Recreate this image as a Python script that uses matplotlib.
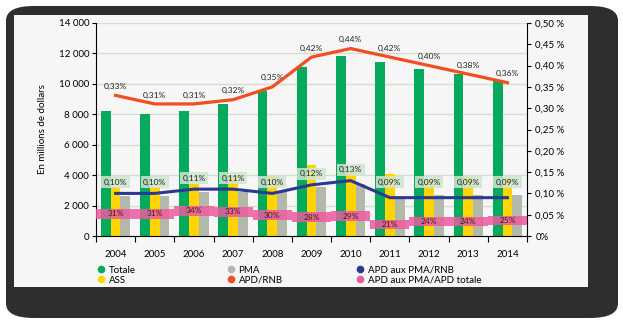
import numpy as np
import matplotlib
matplotlib.use("Agg")
import matplotlib.pyplot as plt
from matplotlib.patches import FancyBboxPatch, Rectangle
from matplotlib.lines import Line2D

plt.rcParams['font.family'] = ['Lato', 'DejaVu Sans']

# -----------------------------
# Data
# -----------------------------
years = ["2004", "2005", "2006", "2007", "2008", "2009", "2010", "2011", "2012", "2013", "2014"]
totale = [8200, 8000, 8200, 8650, 9550, 11100, 11800, 11450, 10950, 10650, 10250]
ass = [3200, 3200, 3450, 4000, 3950, 4650, 4200, 4050, 3750, 3900, 3800]
pma = [2600, 2600, 2900, 2900, 2900, 3250, 3450, 2500, 2700, 2700, 2700]
apd_rnb = [0.33, 0.31, 0.31, 0.32, 0.35, 0.42, 0.44, 0.42, 0.40, 0.38, 0.36]
apd_pma_rnb = [0.10, 0.10, 0.11, 0.11, 0.10, 0.12, 0.13, 0.09, 0.09, 0.09, 0.09]
pma_share = [31, 31, 34, 33, 30, 28, 29, 21, 24, 24, 25]

c_green = "#05aa5c"
c_yellow = "#ffd400"
c_grey = "#b3b9aa"
c_red = "#f04e23"
c_blue = "#2b3990"
c_pink = "#ec5b9f"

def fr(v, dec=2):
    return f"{v:.{dec}f}".replace(".", ",")

# -----------------------------
# Figure + frame
# -----------------------------
fig = plt.figure(figsize=(6.23, 3.23), dpi=100)
fig.patch.set_facecolor("white")
W, H = 623, 323
fig.patches.append(FancyBboxPatch((6 / W, 5 / H), 612 / W, 312 / H,
                                  boxstyle="round,pad=0,rounding_size=0.045",
                                  transform=fig.transFigure, facecolor="#2e2e2e",
                                  edgecolor="none", zorder=-3))
fig.patches.append(Rectangle((14 / W, 1 - 287 / H), 574 / W, 272 / H,
                             transform=fig.transFigure, facecolor="#f6f6f6",
                             edgecolor="none", zorder=-2))

ax = fig.add_axes([96 / W, 1 - 236 / H, 431 / W, 213 / H])
ax.set_facecolor("none")
x = np.arange(len(years))
bw = 0.25

# -----------------------------
# Bars
# -----------------------------
ax.bar(x - bw, totale, bw, color=c_green, zorder=2)
ax.bar(x, ass, bw, color=c_yellow, zorder=2)
ax.bar(x + bw, pma, bw, color=c_grey, zorder=2)

ax.set_xlim(-0.5, len(years) - 0.5)
ax.set_ylim(0, 14000)
ax.set_yticks(np.arange(0, 14001, 2000))
ax.set_yticklabels([f"{v:,}".replace(",", " ") for v in range(0, 14001, 2000)], fontsize=7)
ax.yaxis.grid(True, color="#d3dfcc", linewidth=1.0, zorder=0)
ax.set_axisbelow(True)
ax.set_xticks(x)
ax.set_xticklabels(years, fontsize=7)
ax.set_xticks(np.arange(-0.5, len(years), 1), minor=True)
ax.tick_params(axis="x", which="major", length=0, pad=10)
ax.tick_params(axis="x", which="minor", length=4, width=0.8, direction="out")
ax.tick_params(axis="y", length=3, width=0.8, pad=2)
for s in ["top", "right"]:
    ax.spines[s].set_visible(False)
ax.spines["left"].set_linewidth(0.8)
ax.spines["bottom"].set_linewidth(0.8)
ax.set_ylabel("En millions de dollars", fontsize=7, labelpad=8)

# -----------------------------
# Right axis (percent of GNI)
# -----------------------------
ax2 = ax.twinx()
ax2.set_ylim(0, 0.5)
ticks2 = np.arange(0, 0.501, 0.05)
ax2.set_yticks(ticks2)
ax2.set_yticklabels(["0%"] + [fr(t) + " %" for t in ticks2[1:]], fontsize=7)
ax2.tick_params(axis="y", length=3, width=0.8, pad=3)
for s in ["top", "left", "bottom"]:
    ax2.spines[s].set_visible(False)
ax2.spines["right"].set_linewidth(0.8)

ax2.plot(x, apd_rnb, color=c_red, lw=2.3, zorder=4)
for xi, v in zip(x, apd_rnb):
    ax2.text(xi, v + 0.021, fr(v) + "%", ha="center", va="center", fontsize=6, color="#222222")

ax2.plot(x, apd_pma_rnb, color=c_blue, lw=2.2, zorder=4)
for xi, v in zip(x, apd_pma_rnb):
    ax2.text(xi, max(v, 0.10) + 0.026, fr(v) + "%", ha="center", va="center", fontsize=6,
             color="#222222", zorder=5,
             bbox=dict(boxstyle="square,pad=0.3", fc="#cfe6cf", ec="none", alpha=0.85))

# -----------------------------
# Pink band (share of ODA to LDCs)
# -----------------------------
ax3 = ax.twinx()
ax3.set_ylim(10, 213)
ax3.axis("off")
band = 9
ax3.bar(x, [band] * len(x), 1.0, bottom=[v - band / 2 for v in pma_share],
        color=c_pink, alpha=0.85, zorder=3)
for xi, v in zip(x, pma_share):
    ax3.text(xi, v, f"{v}%", ha="center", va="center", fontsize=6, color="#3a1a2a", zorder=5)

# -----------------------------
# Legend
# -----------------------------
def handle(c):
    return Line2D([], [], marker="o", color="none", markerfacecolor=c,
                  markeredgecolor="none", markersize=5.5)

groups = [(["Totale", "ASS"], [c_green, c_yellow], 92),
          (["PMA", "APD/RNB"], [c_grey, c_red], 222),
          (["APD aux PMA/RNB", "APD aux PMA/APD totale"], [c_blue, c_pink], 351)]
for labels, cols, px in groups:
    fig.legend([handle(c) for c in cols], labels, loc="upper left",
               bbox_to_anchor=(px / W, 1 - 261 / H), frameon=False, fontsize=7,
               handlelength=0.8, handletextpad=0.4, labelspacing=0.1, borderpad=0)

fig.savefig("out.png", dpi=100)
